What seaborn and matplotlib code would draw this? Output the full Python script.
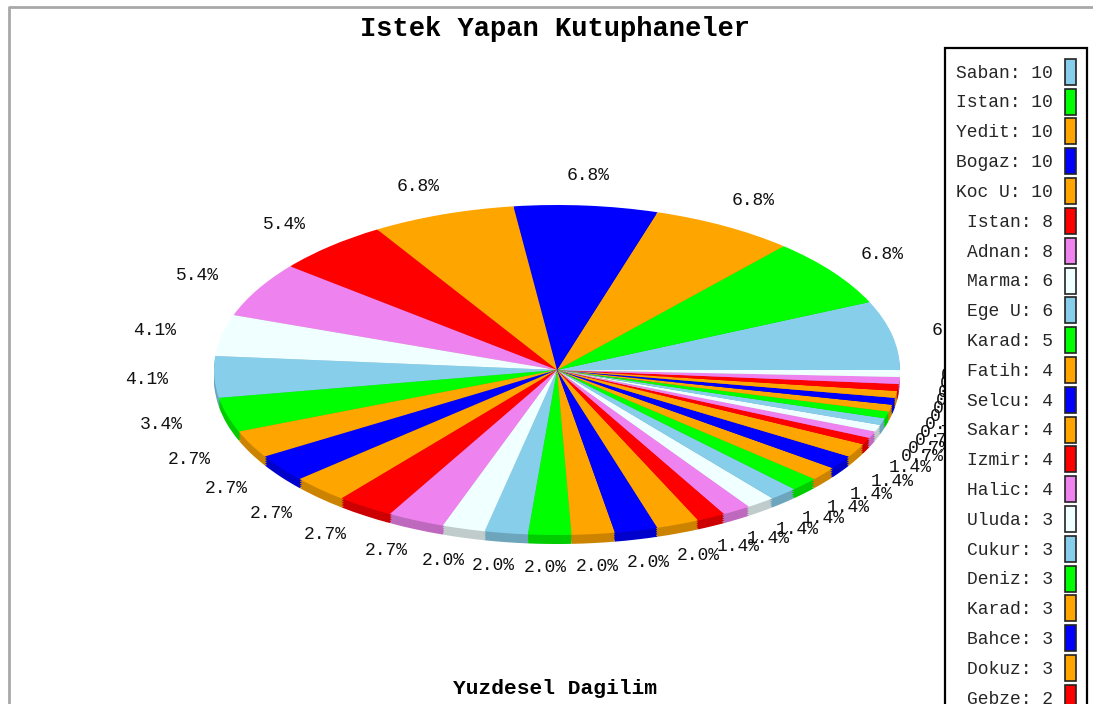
import numpy as np
import matplotlib
matplotlib.use("Agg")
import matplotlib.pyplot as plt
from matplotlib.patches import Patch
import seaborn as sns

sns.set_style("white")
plt.rcParams['font.family'] = ['Liberation Mono', 'DejaVu Sans Mono']

# legend names that can be read in the picture (the rest is cut off at the bottom)
names = ["Saban", "Istan", "Yedit", "Bogaz", "Koc U", "Istan", "Adnan", "Marma",
         "Ege U", "Karad", "Fatih", "Selcu", "Sakar", "Izmir", "Halic", "Uluda",
         "Cukur", "Deniz", "Karad", "Bahce", "Dokuz", "Gebze"]
named_values = [10, 10, 10, 10, 10, 8, 8, 6, 6, 5, 4, 4, 4, 4, 4, 3, 3, 3, 3, 3, 3, 2]
# slices without a readable name
other_values = [2, 2, 2, 2, 2, 2, 2, 1, 1, 1, 1, 1, 1, 1, 1, 1, 1, 1]

base_colors = ["skyblue", "lime", "orange", "blue", "orange", "red", "violet", "azure"]

values = np.array(named_values + other_values)
W, H = 1093, 704
colors = sns.color_palette(base_colors, n_colors=len(values))
rim_colors = [tuple(np.array(c) * 0.8) for c in colors]
pct_labels = [f"{v / values.sum() * 100:.1f}%" for v in values]

fig = plt.figure(figsize=(W / 100, H / 100), dpi=100)

# axes box = bounding box of the squashed pie
cx, cy, rx, ry = 557, 370, 343, 165
ax = fig.add_axes([(cx - rx) / W, 1 - (cy + ry) / H, 2 * rx / W, 2 * ry / H])

# side of the pie: darker copies shifted down
depth = 9 / ry
for d in np.linspace(depth, depth / 4, 4):
    ax.pie(values, colors=rim_colors, center=(0, -d), counterclock=True,
           wedgeprops={"clip_on": False, "linewidth": 0})

wedges, texts = ax.pie(values, colors=colors, labels=pct_labels, labeldistance=1.19,
                       counterclock=True, wedgeprops={"clip_on": False, "linewidth": 0},
                       textprops={"fontsize": 13, "color": "#111111"})
for t in texts:
    t.set_ha("center")
    t.set_va("center")
    # small nudge, labels sit a bit left and low in the original
    t.set_x(t.get_position()[0] - 3 / rx)
    t.set_y(t.get_position()[1] - 1.5 / ry)

ax.set_aspect("auto")
ax.set_xlim(-1, 1)
ax.set_ylim(-1, 1)

fig.text(555 / W, 1 - 29 / H, "Istek Yapan Kutuphaneler", fontsize=19.5,
         fontweight="bold", ha="center", va="center", color="black")
fig.text(555 / W, 1 - 688 / H, "Yuzdesel Dagilim", fontsize=15.3,
         fontweight="bold", ha="center", va="center", color="black")

# grey outer frame
fig.add_artist(plt.Line2D([8.5 / W, 8.5 / W, 1], [0, 1 - 6.5 / H, 1 - 6.5 / H],
                          color="#a8a8a8", lw=2))

handles = [Patch(facecolor=colors[i], edgecolor="#222222", linewidth=1.2)
           for i in range(len(names))]
legend_labels = [f"{n}: {v}" for n, v in zip(names, named_values)]
leg = fig.legend(handles, legend_labels, loc="upper right",
                 bbox_to_anchor=(1087 / W, 1 - 48 / H), borderaxespad=0,
                 fontsize=13, markerfirst=False, handlelength=0.61, handleheight=1.84,
                 handletextpad=0.67, labelspacing=0.21, borderpad=0.6,
                 fancybox=False, framealpha=1, edgecolor="black")
leg.get_frame().set_linewidth(1.6)

fig.savefig("out.png", dpi=100)
